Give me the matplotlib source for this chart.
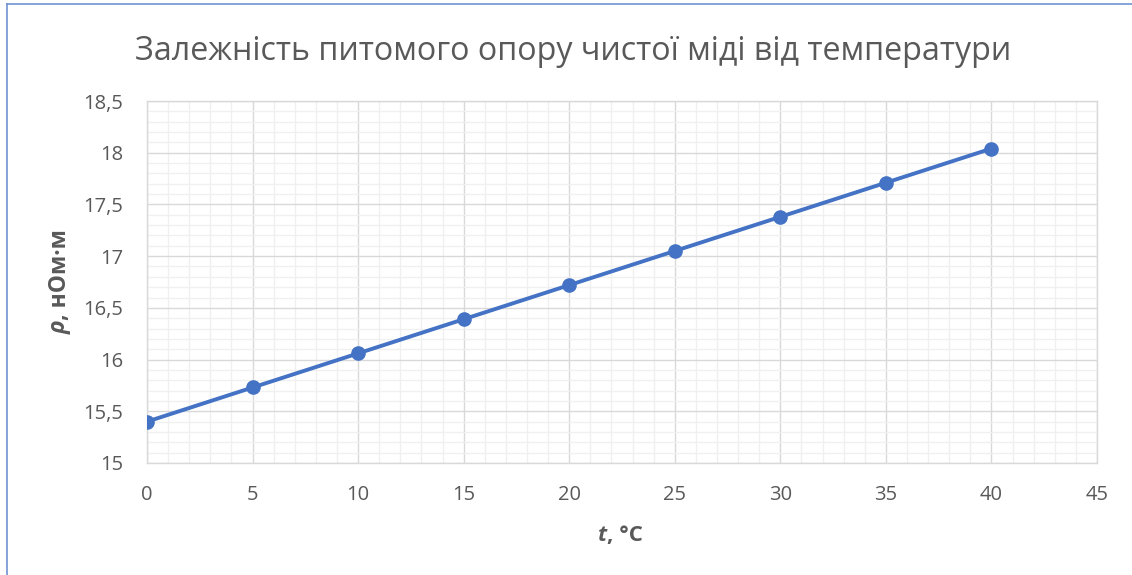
import matplotlib
matplotlib.use("Agg")
import matplotlib.pyplot as plt
from matplotlib.lines import Line2D
from matplotlib.ticker import MultipleLocator

# Data
t_vals = [0, 5, 10, 15, 20, 25, 30, 35, 40]
rho_vals = [15.40, 15.73, 16.06, 16.39, 16.72, 17.05, 17.38, 17.71, 18.04]
x_ticks = [0, 5, 10, 15, 20, 25, 30, 35, 40, 45]
x_tick_labels = ["0", "5", "10", "15", "20", "25", "30", "35", "40", "45"]
y_ticks = [15, 15.5, 16, 16.5, 17, 17.5, 18, 18.5]
y_tick_labels = ["15", "15,5", "16", "16,5", "17", "17,5", "18", "18,5"]
title = "Залежність питомого опору чистої міді від температури"

FONT = "Open Sans"
TXT = "#595959"
plt.rcParams['font.family'] = [FONT, "DejaVu Sans"]

fig = plt.figure(figsize=(11.32, 5.75), dpi=100)
ax = fig.add_axes([147/1132, 1-463/575, (1097-147)/1132, (463-101)/575])

ax.plot(t_vals, rho_vals, color="#4472C4", lw=2.8, marker="o", ms=9.5,
        markerfacecolor="#4472C4", markeredgecolor="#4472C4", zorder=5,
        solid_capstyle="round")

ax.set_xlim(0, 45)
ax.set_ylim(15, 18.5)
ax.set_xticks(x_ticks)
ax.set_xticklabels(x_tick_labels)
ax.set_yticks(y_ticks)
ax.set_yticklabels(y_tick_labels)
ax.xaxis.set_minor_locator(MultipleLocator(1))
ax.yaxis.set_minor_locator(MultipleLocator(0.1))
ax.grid(which="minor", color="#f0f0f0", lw=1.0, zorder=0)
ax.grid(which="major", color="#d9d9d9", lw=1.0, zorder=1)
ax.set_axisbelow(True)
ax.tick_params(which="both", length=0)
ax.tick_params(axis="x", pad=16, labelsize=14.5, labelcolor=TXT)
ax.tick_params(axis="y", pad=17, labelsize=14.5, labelcolor=TXT)
for s in ax.spines.values():
    s.set_color("#d9d9d9")
    s.set_linewidth(1.0)

fig.text(0.506, 1-52/575, title, ha="center", va="center", fontsize=23.2, color=TXT)

# x label: "t" bold italic + ", °C" bold
xl1 = fig.text(598/1132, 1-541/575, "t", ha="left", va="baseline", fontsize=16,
               fontweight="bold", fontstyle="italic", color=TXT)
fig.canvas.draw()
ax.annotate(", °C", xy=(1, 0), xycoords=xl1, ha="left", va="bottom",
            fontsize=16, fontweight="bold", color=TXT, annotation_clip=False)

# y label: "ρ" bold italic + ", нОм·м" bold (rotated)
yl1 = fig.text(60/1132, 1-334/575, "ρ", ha="center", va="bottom", rotation=90,
               fontsize=16.5, fontweight="bold", fontstyle="italic", color=TXT)
fig.canvas.draw()
ax.annotate(", нОм·м", xy=(0.5, 1), xycoords=yl1, ha="center", va="bottom",
            rotation=90, fontsize=16.5, fontweight="bold", color=TXT,
            annotation_clip=False)

# Chart border (blue, left and top edges)
fig.add_artist(Line2D([7/1132, 7/1132], [0, 1-4/575], transform=fig.transFigure,
                      color="#6f93d1", lw=1.2))
fig.add_artist(Line2D([7/1132, 1], [1-4/575, 1-4/575], transform=fig.transFigure,
                      color="#6f93d1", lw=1.2))

fig.savefig("out.png", dpi=100)
